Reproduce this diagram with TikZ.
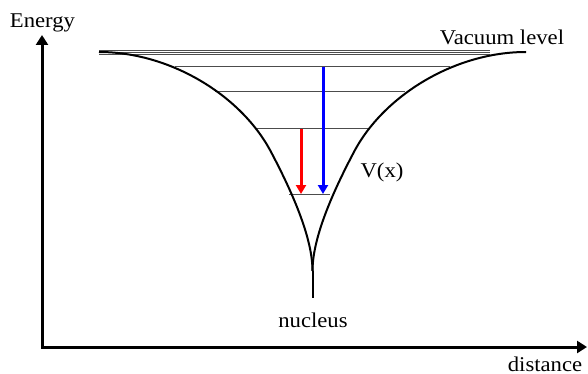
\documentclass[tikz,border=0pt]{standalone}
\usepackage{fontspec}
\setmainfont{Liberation Serif}[FakeStretch=1.08]
\usetikzlibrary{arrows.meta}
\begin{document}
\begin{tikzpicture}[x=1pt,y=-1pt,
  lbl/.style={font=\fontsize{21}{24}\selectfont, inner sep=0pt, anchor=base},
  lvl/.style={line width=1pt, black!70},
  pot/.style={line width=2pt, line join=round},
  trans/.style={line width=3pt, -{Triangle[length=9pt,width=10pt]}}]
\useasboundingbox (0,0) rectangle (588,374);
% axes
\coordinate (O) at (42,347);
\coordinate (ytop) at (42,35);
\coordinate (xend) at (587,347);
\draw[line width=3pt, line join=miter, {Triangle[length=10pt,width=12pt]}-{Triangle[length=10pt,width=12pt]}] (ytop) -- (O) -- (xend);
% energy levels
\coordinate (v1a) at (99,51);   \coordinate (v1b) at (490,51);
\coordinate (v2a) at (99,53);   \coordinate (v2b) at (490,53);
\coordinate (v3a) at (99,55);   \coordinate (v3b) at (490,55);
\coordinate (l1a) at (175,67);  \coordinate (l1b) at (450,67);
\coordinate (l2a) at (215,91.5);\coordinate (l2b) at (405,91.5);
\coordinate (l3a) at (255,129); \coordinate (l3b) at (370,129);
\coordinate (l4a) at (289,194); \coordinate (l4b) at (330,194);
\draw[lvl] (v1a) -- (v1b);
\draw[lvl] (v2a) -- (v2b);
\draw[lvl] (v3a) -- (v3b);
\draw[lvl] (l1a) -- (l1b);
\draw[lvl] (l2a) -- (l2b);
\draw[lvl] (l3a) -- (l3b);
\draw[lvl] (l4a) -- (l4b);
% potential
\coordinate (cusp) at (312.5,271);
\coordinate (nucpt) at (312.5,298);
\draw[pot] (99,52) .. controls (170,52) and (240,95) .. (270,150)
  .. controls (295,197) and (312.5,240) .. (cusp);
\draw[pot] (526,52) .. controls (455,52) and (385,95) .. (355,150)
  .. controls (330,197) and (312.5,240) .. (cusp);
\draw[pot] (cusp) -- (nucpt);
% transitions
\coordinate (r1) at (301,129); \coordinate (r2) at (301,194);
\coordinate (b1) at (323,67);  \coordinate (b2) at (323,194);
\draw[trans, red] (r1) -- (r2);
\draw[trans, blue] (b1) -- (b2);
% labels
\node[lbl] (energy) at (42.5,28) {Energy};
\node[lbl] (vac) at (502,45) {Vacuum level};
\node[lbl] (vx) at (382,177) {V(x)};
\node[lbl] (nuc) at (313,327) {nucleus};
\node[lbl] (dist) at (545,371) {distance};
\end{tikzpicture}
\end{document}
